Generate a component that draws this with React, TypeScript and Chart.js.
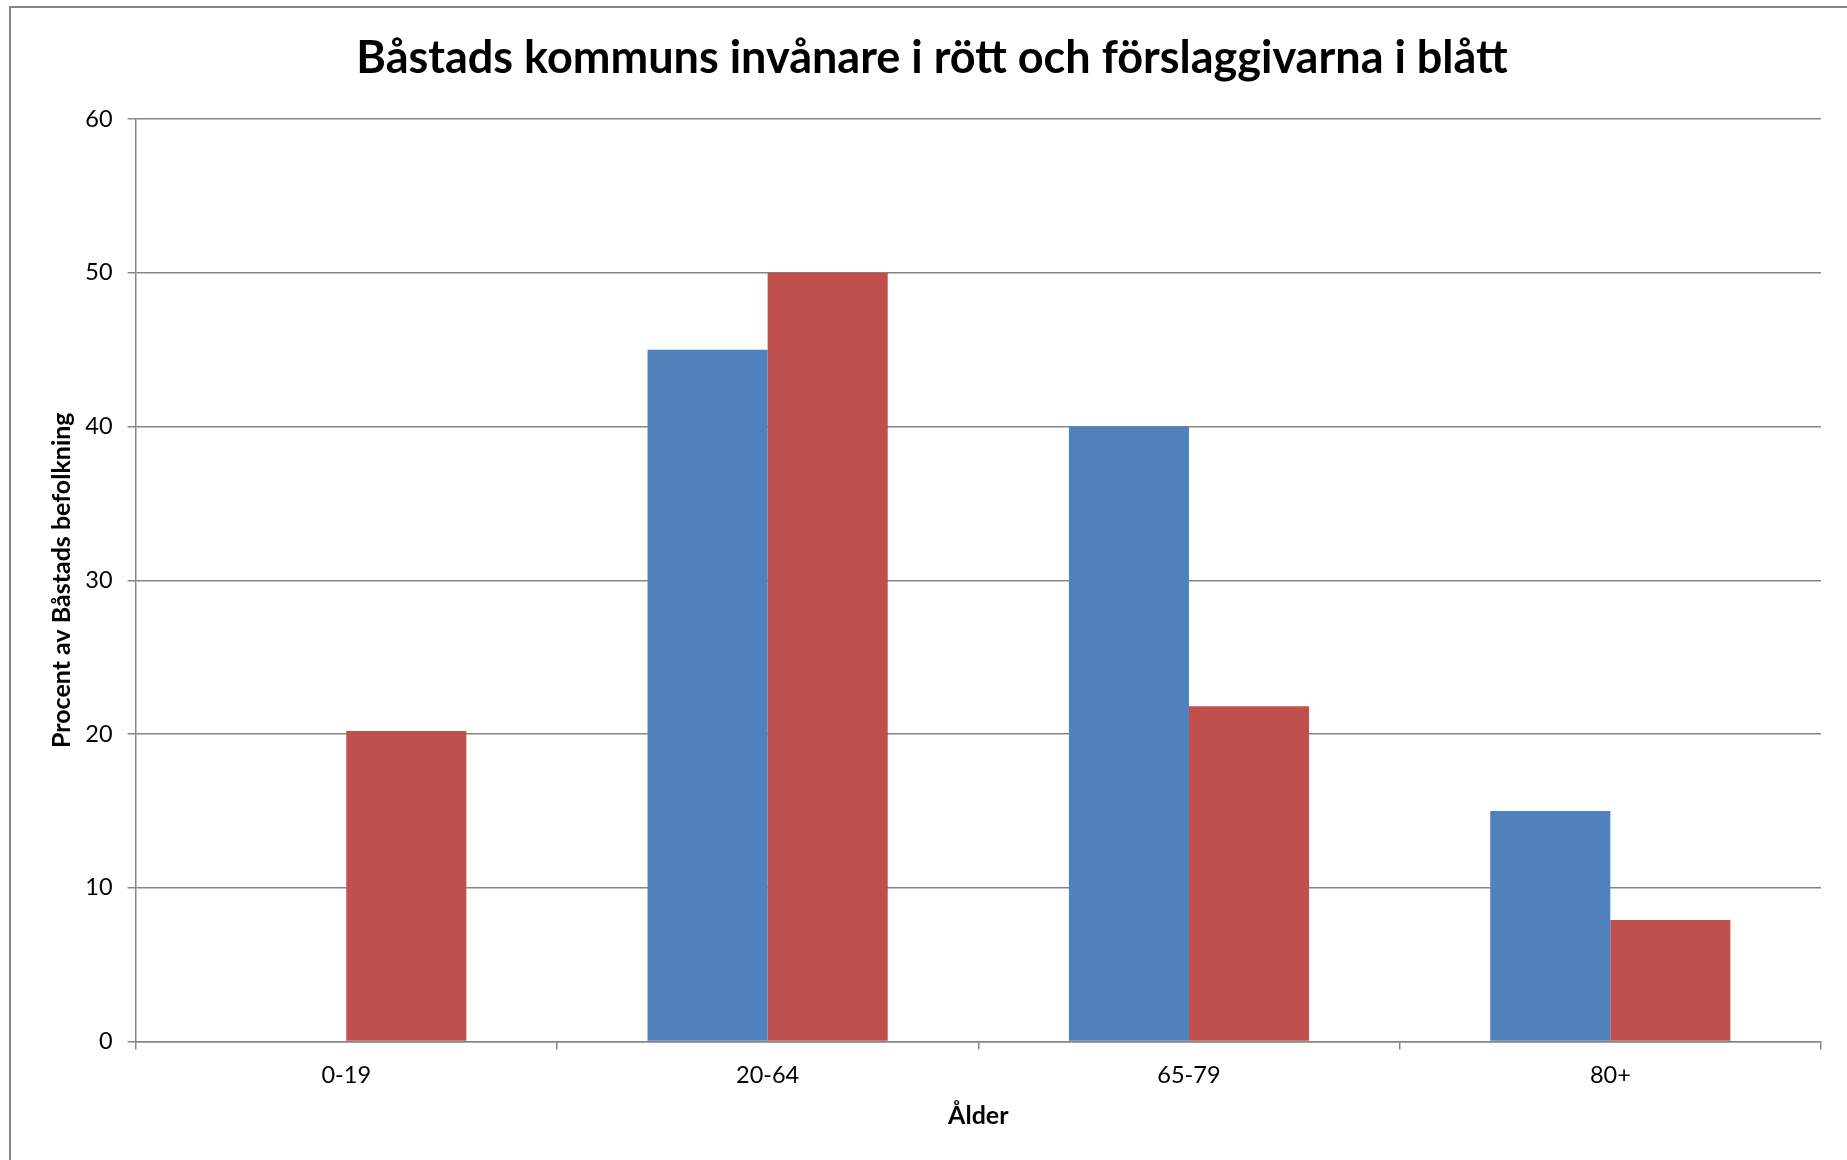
import React, { useEffect, useRef } from "react";
import { Chart, registerables } from "chart.js";

Chart.register(...registerables);

const categories = ["0-19", "20-64", "65-79", "80+"];
const blueValues = [0, 45, 40, 15];
const redValues = [20.2, 50, 21.8, 7.9];
const blueLabel = "Förslaggivarna";
const redLabel = "Båstads kommuns invånare";
const chartTitle = "Båstads kommuns invånare i rött och förslaggivarna i blått";
const yTitle = "Procent av Båstads befolkning";
const xTitle = "Ålder";

const GRAY = "#868686";
const FONT = "Lato";

export default function App() {
  const ref = useRef<HTMLCanvasElement | null>(null);

  useEffect(() => {
    if (!ref.current) return;
    const chart = new Chart(ref.current, {
      type: "bar",
      data: {
        labels: categories,
        datasets: [
          { label: blueLabel, data: blueValues, backgroundColor: "#4F81BD", borderWidth: 0 },
          { label: redLabel, data: redValues, backgroundColor: "#C0504D", borderWidth: 0 },
        ],
      },
      options: {
        responsive: false,
        animation: false,
        layout: { padding: { left: 43, right: 26, top: 0, bottom: 26 } },
        datasets: { bar: { categoryPercentage: 0.57, barPercentage: 1 } },
        plugins: {
          legend: { display: false },
          tooltip: { enabled: false },
          title: {
            display: true,
            text: chartTitle,
            color: "#000",
            font: { family: FONT, size: 45, weight: "bold", lineHeight: 1.2 },
            padding: { top: 31, bottom: 34 },
          },
        },
        scales: {
          x: {
            type: "category",
            offset: true,
            grid: {
              display: true,
              drawOnChartArea: false,
              drawTicks: true,
              tickLength: 8,
              color: GRAY,
              lineWidth: 1.5,
              offset: true,
            },
            border: { display: true, color: GRAY, width: 1.5 },
            ticks: { color: "#000", font: { family: FONT, size: 23.5 }, padding: 12, maxRotation: 0 },
            title: {
              display: true,
              text: xTitle,
              color: "#000",
              font: { family: FONT, size: 25, weight: "bold", lineHeight: 1.2 },
              padding: { top: 4, bottom: 3 },
            },
            afterFit: (scale: any) => {
              scale.height = 92.5;
            },
          },
          y: {
            min: 0,
            max: 60,
            ticks: { stepSize: 10, color: "#000", font: { family: FONT, size: 23.5 }, padding: 15 },
            grid: { color: GRAY, lineWidth: 1.5, tickLength: 8, drawTicks: true },
            border: { display: true, color: GRAY, width: 1.5 },
            title: {
              display: true,
              text: yTitle,
              color: "#000",
              font: { family: FONT, size: 25, weight: "bold", lineHeight: 1.2 },
              padding: { top: 4, bottom: 4 },
            },
            afterFit: (scale: any) => {
              scale.width = 92.6;
            },
          },
        },
      },
    });
    return () => chart.destroy();
  }, []);

  return (
    <>
      <div
        style={{
          position: "absolute",
          left: 9,
          top: 6,
          width: 1838,
          height: 1154,
          borderLeft: `2px solid ${GRAY}`,
          borderTop: `2px solid ${GRAY}`,
          boxSizing: "border-box",
        }}
      />
      <canvas
        ref={ref}
        width={1847}
        height={1160}
        style={{ position: "absolute", left: 0, top: 0, width: 1847, height: 1160 }}
      />
    </>
  );
}
